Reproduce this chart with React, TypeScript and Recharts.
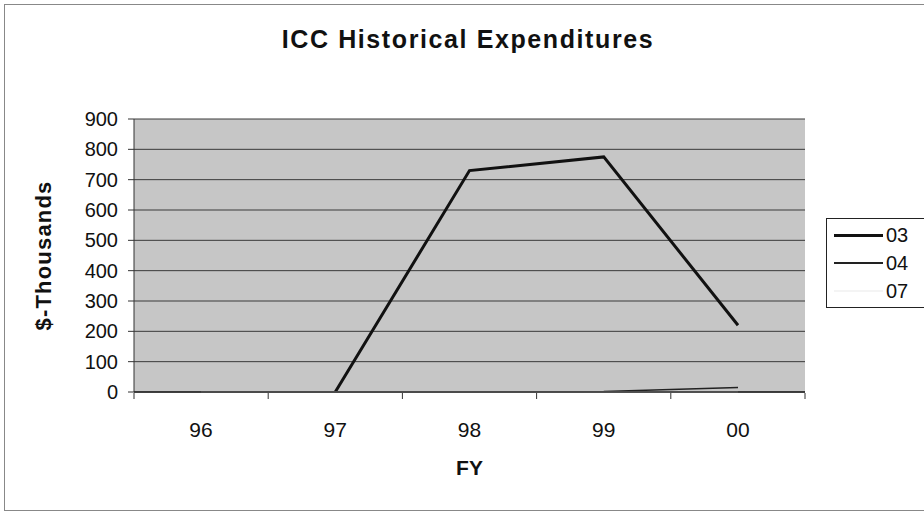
import React from "react";
import {
  LineChart,
  Line,
  XAxis,
  YAxis,
  CartesianGrid,
  Legend,
  Label,
} from "recharts";

// Fiscal years and expenditures ($ thousands)
const years = ["96", "97", "98", "99", "00"];
const s03: (number | null)[] = [null, 0, 730, 775, 220];
const s04: (number | null)[] = [0, 0, 0, 2, 15];
const s07: (number | null)[] = [0, 0, 0, 0, 0];
const yTicks = [0, 100, 200, 300, 400, 500, 600, 700, 800, 900];
// category boundaries (Excel-style tick marks between years)
const sepTicks = [-0.5, 0.5, 1.5, 2.5, 3.5, 4.5];

const FONT = "'Liberation Sans', Arial, sans-serif";

const seriesStyle = [
  { key: "03", color: "#111", width: 3 },
  { key: "04", color: "#222", width: 1.5 },
  { key: "07", color: "#f4f4f4", width: 1.5 },
];

function LegendBox() {
  return (
    <div
      style={{
        border: "1px solid #222",
        background: "#fff",
        width: 110,
        height: 90,
        boxSizing: "border-box",
        paddingTop: 2,
      }}
    >
      {seriesStyle.map((s) => (
        <div
          key={s.key}
          style={{ display: "flex", alignItems: "center", height: 28, fontFamily: FONT, fontSize: 20 }}
        >
          <span
            style={{
              display: "inline-block",
              marginLeft: 7,
              width: 49,
              height: s.width,
              background: s.color,
            }}
          />
          <span style={{ marginLeft: 3, color: "#111" }}>{s.key}</span>
        </div>
      ))}
    </div>
  );
}

const noTick = () => <g />;

export default function App() {
  const data = years.map((fy, i) => ({
    fy,
    slot: i,
    "03": s03[i],
    "04": s04[i],
    "07": s07[i],
  }));

  return (
    <div style={{ position: "absolute", left: 0, top: 0, width: 924, height: 512, background: "#fff", overflow: "hidden" }}>
      <div
        style={{
          position: "absolute",
          left: 4,
          top: 4,
          width: 930,
          height: 505,
          border: "1px solid #888",
        }}
      />
      <div
        style={{
          position: "absolute",
          left: 0,
          top: 25,
          width: 936,
          textAlign: "center",
          fontFamily: FONT,
          fontWeight: "bold",
          fontSize: 25,
          letterSpacing: 1.6,
          color: "#111",
        }}
      >
        ICC Historical Expenditures
      </div>
      <div style={{ position: "absolute", left: 0, top: 0 }}>
        <LineChart
          width={924}
          height={512}
          data={data}
          margin={{ top: 119, right: 119, bottom: 118, left: 0 }}
        >
          <CartesianGrid
            horizontal
            vertical={false}
            fill="#c6c6c6"
            fillOpacity={1}
            stroke="#3a3a3a"
            strokeWidth={1}
          />
          <XAxis
            dataKey="fy"
            padding={{ left: 67, right: 67 }}
            axisLine={{ stroke: "#222", strokeWidth: 1.5 }}
            tickLine={false}
            tick={{ fill: "#111", fontSize: 21, fontFamily: FONT, dy: 22 }}
            height={1}
          >
            <Label
              value="FY"
              position="insideTop"
              offset={68}
              style={{ fontFamily: FONT, fontWeight: "bold", fontSize: 21, fill: "#111" }}
            />
          </XAxis>
          <XAxis
            xAxisId="sep"
            dataKey="slot"
            type="number"
            domain={[-0.5, 4.5]}
            ticks={sepTicks}
            interval={0}
            allowDataOverflow
            tick={noTick}
            axisLine={false}
            tickLine={{ stroke: "#333" }}
            tickSize={6}
            height={1}
          />
          <YAxis
            domain={[0, 900]}
            ticks={yTicks}
            interval={0}
            width={134}
            axisLine={{ stroke: "#333" }}
            tickLine={{ stroke: "#333" }}
            tickSize={6}
            tickMargin={10}
            tick={{ fill: "#111", fontSize: 20, fontFamily: FONT }}
          >
            <Label
              value="$-Thousands"
              angle={-90}
              position="insideLeft"
              offset={43}
              style={{
                textAnchor: "middle",
                fontFamily: FONT,
                fontWeight: "bold",
                fontSize: 22,
                letterSpacing: 1.2,
                fill: "#111",
              }}
            />
          </YAxis>
          <YAxis
            yAxisId="border"
            orientation="right"
            domain={[0, 900]}
            width={0}
            tick={false}
            tickLine={false}
            axisLine={{ stroke: "#333", strokeWidth: 1.5 }}
          />
          {seriesStyle.map((s) => (
            <Line
              key={s.key}
              type="linear"
              dataKey={s.key}
              stroke={s.color}
              strokeWidth={s.width}
              dot={false}
              activeDot={false}
              isAnimationActive={false}
            />
          ))}
          <Legend
            layout="horizontal"
            verticalAlign="middle"
            align="center"
            content={<LegendBox />}
            wrapperStyle={{ position: "absolute", left: 826, top: 218, width: 110 }}
          />
        </LineChart>
      </div>
    </div>
  );
}
